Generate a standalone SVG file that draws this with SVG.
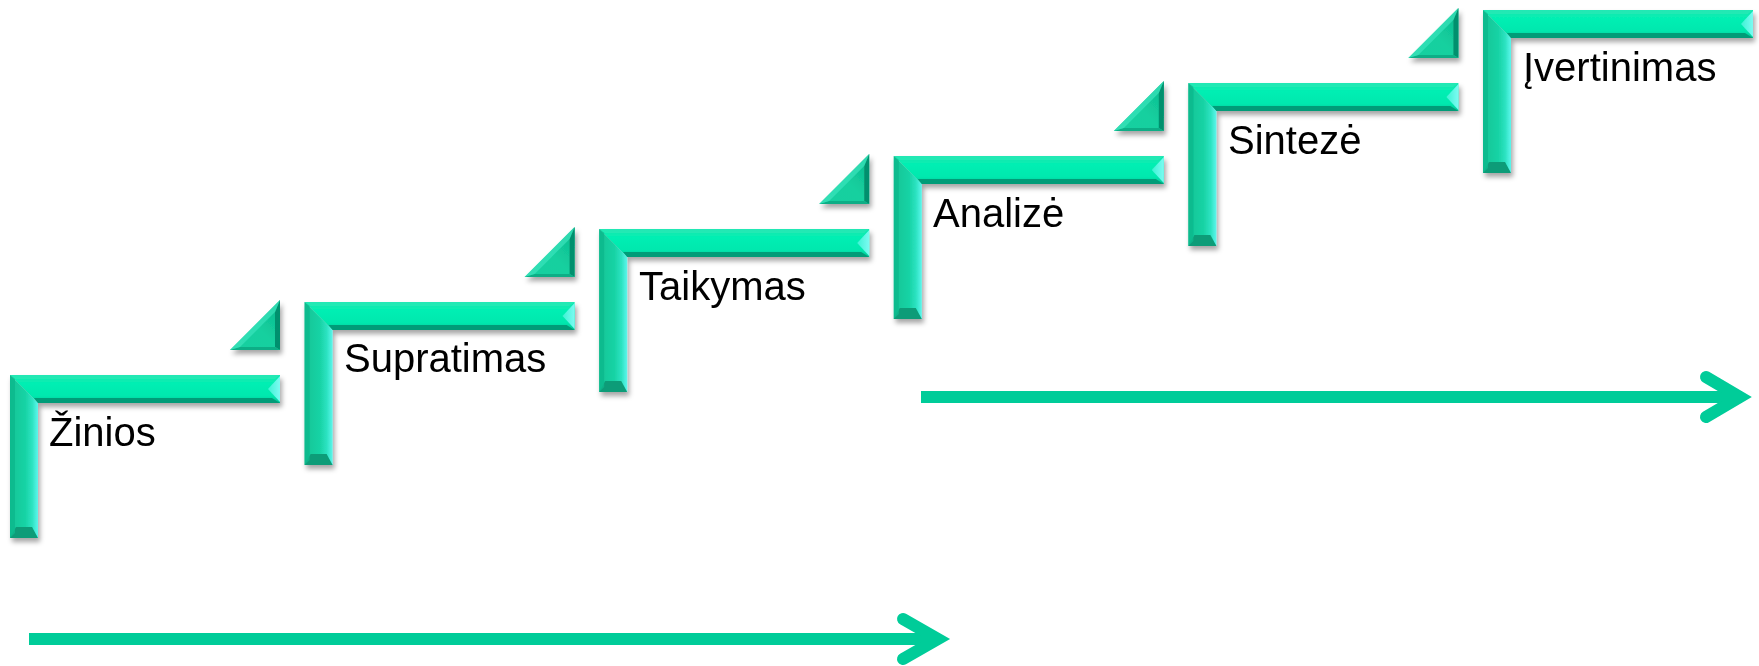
<svg xmlns="http://www.w3.org/2000/svg" xmlns:xlink="http://www.w3.org/1999/xlink" width="1759" height="666" viewBox="0 0 1759 666">
  <style>
    .label { font-family: "Liberation Sans", Arial, sans-serif; font-size: 40px; fill: #000000; }
    .shaft { stroke: #00CC99; stroke-width: 12; fill: none; }
    .head { stroke: #00CC99; stroke-width: 12; fill: none; stroke-linejoin: miter; stroke-linecap: round; }
  </style>
  <defs>
    <filter id="shadow" x="-10%" y="-10%" width="130%" height="130%">
      <feDropShadow dx="2" dy="4" stdDeviation="2.5" flood-color="#000000" flood-opacity="0.35"/>
    </filter>
    <!-- horizontal bar: bright mint top, darker lower lip -->
    <linearGradient id="hbar" x1="0" y1="0" x2="0" y2="1">
      <stop offset="0" stop-color="#0FE6AE"/>
      <stop offset="0.3" stop-color="#05EFB3"/>
      <stop offset="0.75" stop-color="#02E8AE"/>
      <stop offset="1" stop-color="#03C596"/>
    </linearGradient>
    <!-- vertical bar: darker outer edge, cyan inner edge -->
    <linearGradient id="vbar" x1="0" y1="0" x2="1" y2="0">
      <stop offset="0" stop-color="#12C495"/>
      <stop offset="0.55" stop-color="#18D3A5"/>
      <stop offset="0.8" stop-color="#2DE3C2"/>
      <stop offset="1" stop-color="#5DF6EC"/>
    </linearGradient>
    <linearGradient id="tri" x1="0" y1="1" x2="1" y2="0">
      <stop offset="0" stop-color="#1ACFA0"/>
      <stop offset="0.5" stop-color="#14D09F"/>
      <stop offset="1" stop-color="#0CB88C"/>
    </linearGradient>
    <linearGradient id="endcap" x1="0" y1="0" x2="1" y2="0">
      <stop offset="0" stop-color="#3CF2D4"/>
      <stop offset="1" stop-color="#7CFBF2"/>
    </linearGradient>

    <!-- one beveled L-shaped step, origin at its outer top-left corner -->
    <g id="step">
      <!-- horizontal bar (mitred at the corner) -->
      <polygon points="0,0 270,0 270,28 28,28" fill="url(#hbar)"/>
      <!-- vertical bar -->
      <polygon points="0,0 28,28 28,163 0,163" fill="url(#vbar)"/>
      <!-- bevel facets -->
      <polygon points="0,0 270,0 265,4 5,4" fill="#2EEAB8" opacity="0.6"/>
      <polygon points="270,1 270,27 258,14" fill="url(#endcap)"/>
      <polygon points="28,28 270,28 262,23 24,23" fill="#049C78"/>
      <polygon points="0,163 28,163 22,152 6,152" fill="#0A9C78"/>
      <polygon points="0,0 5,4 5,158 0,163" fill="#0FB88C" opacity="0.8"/>
    </g>

    <!-- small beveled corner triangle -->
    <g id="wedge">
      <polygon points="0,50 50,50 50,0" fill="url(#tri)"/>
      <polygon points="50,0 50,50 45,47 45,12" fill="#06906E"/>
      <polygon points="0,50 50,50 45,47 10,47" fill="#0AAE86"/>
      <polygon points="0,50 50,0 45,12 10,47" fill="#3BE4BC" opacity="0.7"/>
    </g>
  </defs>

  <rect width="1759" height="666" fill="#FFFFFF"/>

  <g id="step-zinios" filter="url(#shadow)">
    <use xlink:href="#step" x="10" y="375"/>
    <use xlink:href="#wedge" x="230" y="300"/>
  </g>
  <text class="label" x="49" y="446">Žinios</text>

  <g id="step-supratimas" filter="url(#shadow)">
    <use xlink:href="#step" x="304.6" y="302"/>
    <use xlink:href="#wedge" x="524.6" y="227"/>
  </g>
  <text class="label" x="344" y="372">Supratimas</text>

  <g id="step-taikymas" filter="url(#shadow)">
    <use xlink:href="#step" x="599.2" y="229"/>
    <use xlink:href="#wedge" x="819.2" y="154"/>
  </g>
  <text class="label" x="639" y="300">Taikymas</text>

  <g id="step-analize" filter="url(#shadow)">
    <use xlink:href="#step" x="893.8" y="156"/>
    <use xlink:href="#wedge" x="1113.8" y="81"/>
  </g>
  <text class="label" x="933" y="227">Analizė</text>

  <g id="step-sinteze" filter="url(#shadow)">
    <use xlink:href="#step" x="1188.4" y="83"/>
    <use xlink:href="#wedge" x="1408.4" y="8"/>
  </g>
  <text class="label" x="1228" y="154">Sintezė</text>

  <g id="step-ivertinimas" filter="url(#shadow)">
    <use xlink:href="#step" x="1483" y="10"/>
  </g>
  <text class="label" x="1523" y="81">Įvertinimas</text>

  <g id="connectors">
    <line class="shaft" x1="29" y1="639" x2="936" y2="639"/>
    <polyline class="head" points="903,619 938,639 903,659"/>
    <line class="shaft" x1="921" y1="397" x2="1738" y2="397"/>
    <polyline class="head" points="1706,377 1740,397 1706,417"/>
  </g>
</svg>
